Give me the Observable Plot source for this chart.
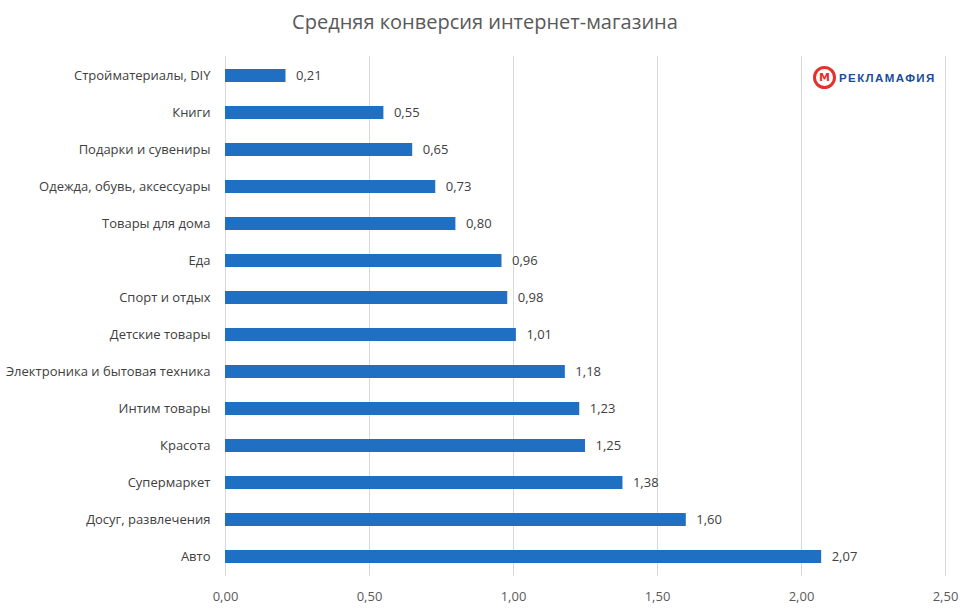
<!DOCTYPE html>
<html>
<head>
<meta charset="utf-8">
<script src="https://cdn.jsdelivr.net/npm/d3@7"></script>
<script src="https://cdn.jsdelivr.net/npm/@observablehq/plot@0.6"></script>
<style>
  body { margin: 0; background: #fff; font-family: "Open Sans", "Noto Sans", sans-serif; }
  #wrap { position: relative; width: 970px; height: 613px; }
  #title { height: 44px; line-height: 44px; text-align: center; font-size: 20px; color: #595959; }
  #logo { position: absolute; left: 813px; top: 66px; display: flex; align-items: center; }
  #logo .ring { width: 17px; height: 17px; border: 3px solid #e4312b; border-radius: 50%; display: flex; align-items: center; justify-content: center; font-size: 11px; font-weight: bold; color: #e4312b; font-family: "DejaVu Sans", sans-serif; }
  #logo .txt { margin-left: 3px; font-size: 11.5px; font-weight: bold; color: #1a4d9c; letter-spacing: 1.4px; font-family: "Liberation Sans", sans-serif; }
</style>
</head>
<body>
<div id="wrap">
  <div id="title">Средняя конверсия интернет-магазина</div>
  <div id="chart"></div>
  <div id="logo"><div class="ring">М</div><div class="txt">РЕКЛАМАФИЯ</div></div>
</div>
<script>
const categories = [
  "Стройматериалы, DIY",
  "Книги",
  "Подарки и сувениры",
  "Одежда, обувь, аксессуары",
  "Товары для дома",
  "Еда",
  "Спорт и отдых",
  "Детские товары",
  "Электроника и бытовая техника",
  "Интим товары",
  "Красота",
  "Супермаркет",
  "Досуг, развлечения",
  "Авто"
];
const values = [0.21, 0.55, 0.65, 0.73, 0.80, 0.96, 0.98, 1.01, 1.18, 1.23, 1.25, 1.38, 1.60, 2.07];
const xTicks = [0, 0.5, 1, 1.5, 2, 2.5];

const data = categories.map((c, i) => ({category: c, value: values[i]}));
const fmt = v => d3.format(".2f")(v).replace(".", ",");

const chart = Plot.plot({
  width: 970,
  height: 569,
  marginLeft: 225,
  marginRight: 25,
  marginTop: 12,
  marginBottom: 37,
  style: { fontFamily: "'Open Sans', 'Noto Sans', sans-serif", fontSize: "13px", color: "#404040", background: "#fff" },
  x: { domain: [0, 2.5], ticks: xTicks, tickFormat: fmt, label: null },
  y: { domain: categories, paddingInner: 0.65, paddingOuter: 0.31, label: null },
  marks: [
    Plot.gridX(xTicks, { stroke: "#d9d9d9", strokeOpacity: 1 }),
    Plot.barX(data, { x: "value", y: "category", fill: "#1f70c3" }),
    Plot.text(data, { x: "value", y: "category", text: d => fmt(d.value), textAnchor: "start", dx: 10, fill: "#404040", fontSize: 13 }),
    Plot.axisX({ ticks: xTicks, tickFormat: fmt, tickSize: 0, tickPadding: 15, fontSize: 13, fill: "#595959", label: null }),
    Plot.axisY({ tickSize: 0, tickPadding: 15, fontSize: 13, fill: "#404040", label: null })
  ]
});
document.getElementById("chart").appendChild(chart);
</script>
</body>
</html>
